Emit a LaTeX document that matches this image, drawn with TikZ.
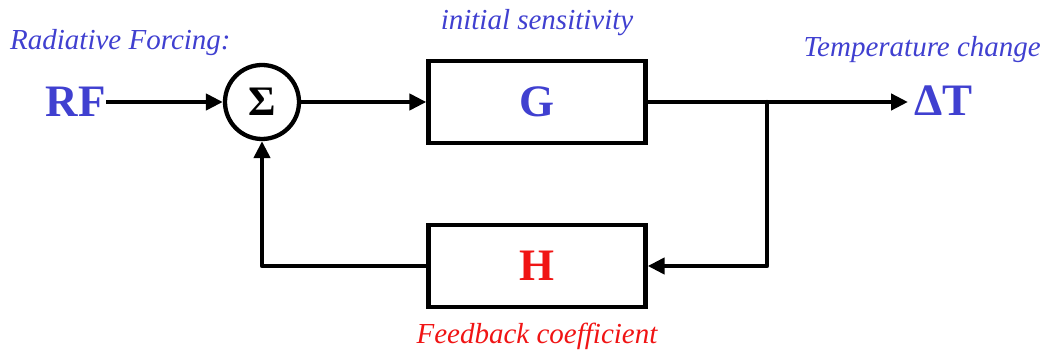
\documentclass[tikz,border=0pt]{standalone}
\usepackage{fontspec}
\setmainfont{Liberation Serif}
\usetikzlibrary{arrows.meta}
\definecolor{lblue}{RGB}{64,64,208}
\definecolor{lred}{RGB}{240,20,20}
\tikzset{
  blockbox/.style={draw, line width=4.3pt, minimum width=217pt, minimum height=82pt, inner sep=0pt, font=\fontsize{45}{45}\selectfont\bfseries},
  sumnode/.style={draw, circle, line width=4.3pt, minimum size=74pt, inner sep=0pt, font=\fontsize{42}{42}\selectfont\bfseries},
  bigtxt/.style={inner sep=0pt, text=lblue, font=\fontsize{45}{45}\selectfont\bfseries},
  caption/.style={inner sep=0pt, font=\fontsize{29}{30}\selectfont\itshape},
  arr/.style={line width=4.3pt, -{Triangle[length=17pt,width=16pt]}},
  ln/.style={line width=4.3pt, line cap=round, line join=round}
}
\begin{document}
\begin{tikzpicture}[x=1pt,y=-1pt]
\useasboundingbox (0,0) rectangle (1046,352);
\node[bigtxt, anchor=east] (rf) at (106,102) {RF};
\node[sumnode] (sum) at (262,102) {Σ};
\node[blockbox, text=lblue] (G) at (537,102) {G};
\node[blockbox, text=lred] (H) at (537,266) {H};
\node[bigtxt, anchor=west] (dT) at (914,101) {ΔT};
\coordinate (br) at (767,102);
\node[caption, text=lblue, anchor=west] (rfl) at (10,43) {Radiative Forcing:};
\node[caption, text=lblue] (gl) at (537,23) {initial sensitivity};
\node[caption, text=lblue, anchor=east] (tl) at (1041,50) {Temperature change};
\node[caption, text=lred] (hl) at (537,336) {Feedback coefficient};
\draw[arr] (rf.east) -- (sum.west);
\draw[arr] (sum.east) -- (G.west);
\draw[arr] (G.east) -- ([xshift=-6pt]dT.west |- G.east);
\draw[ln, arr] (br) |- (H.east);
\draw[ln, arr] (H.west) -| (sum.south);
\end{tikzpicture}
\end{document}
